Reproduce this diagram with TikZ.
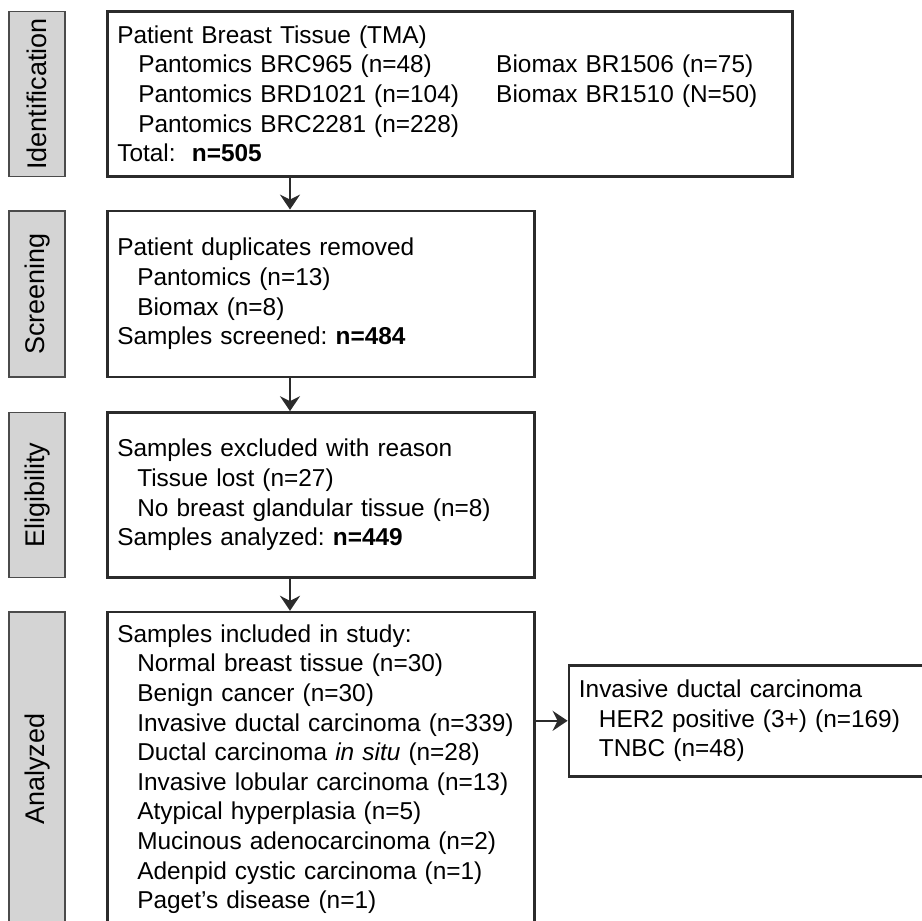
\documentclass[tikz,border=0pt]{standalone}
\usepackage{fontspec}
\setmainfont{Liberation Sans}
\frenchspacing
\usetikzlibrary{positioning, arrows.meta}

\definecolor{framegray}{HTML}{2B2B2B}
\definecolor{phasegray}{HTML}{D4D4D4}

\begin{document}
\begin{tikzpicture}[
    ->,
    >={Stealth[length=15pt, width=20pt, inset=5pt]},
    x=1pt, y=1pt,
    line width=2.6pt,
    font=\fontsize{24.4pt}{29.6pt}\selectfont,
    stagebox/.style={draw=framegray, line width=2.6pt, fill=white, align=left, inner xsep=10pt, inner ysep=0pt, text width=407pt},
    phase/.style={draw=framegray!85, line width=1.6pt, fill=phasegray, rotate=90, minimum height=56pt, inner sep=0pt, font=\fontsize{27pt}{30pt}\selectfont}
  ]

  \useasboundingbox (0,0) rectangle (922,-921);

  % --- STAGE BOXES ---
  \node[stagebox, text width=665pt, minimum height=165pt, anchor=north west] (ident) at (106,-10) {
    Patient Breast Tissue (TMA)\\
    \hspace*{21pt}\makebox[358pt][l]{Pantomics BRC965 (n=48)}Biomax BR1506 (n=75)\\
    \hspace*{21pt}\makebox[358pt][l]{Pantomics BRD1021 (n=104)}Biomax BR1510 (N=50)\\
    \hspace*{21pt}Pantomics BRC2281 (n=228)\\
    Total:\ \ \textbf{n=505}};
  \node[stagebox, minimum height=166pt, below=32pt of ident.south west, anchor=north west] (screen) {
    Patient duplicates removed\\
    \hspace*{20pt}Pantomics (n=13)\\
    \hspace*{20pt}Biomax (n=8)\\
    Samples screened: \textbf{n=484}};
  \node[stagebox, minimum height=165pt, below=33pt of screen.south west, anchor=north west] (elig) {
    Samples excluded with reason\\
    \hspace*{20pt}Tissue lost (n=27)\\
    \hspace*{20pt}No breast glandular tissue (n=8)\\
    Samples analyzed: \textbf{n=449}};
  \node[stagebox, minimum height=314pt, below=32pt of elig.south west, anchor=north west] (incl) {
    Samples included in study:\\
    \hspace*{20pt}Normal breast tissue (n=30)\\
    \hspace*{20pt}Benign cancer (n=30)\\
    \hspace*{20pt}Invasive ductal carcinoma (n=339)\\
    \hspace*{20pt}Ductal carcinoma \textit{in situ} (n=28)\\
    \hspace*{20pt}Invasive lobular carcinoma (n=13)\\
    \hspace*{20pt}Atypical hyperplasia (n=5)\\
    \hspace*{20pt}Mucinous adenocarcinoma (n=2)\\
    \hspace*{20pt}Adenpid cystic carcinoma (n=1)\\
    \hspace*{20pt}Paget’s disease (n=1)};

  \coordinate (idc) at ([yshift=-110pt]incl.north east);
  \node[stagebox, text width=360pt, minimum height=111pt, right=32pt of idc, anchor=west] (subtype) {
    Invasive ductal carcinoma\\
    \hspace*{20pt}HER2 positive (3+) (n=169)\\
    \hspace*{20pt}TNBC (n=48)};

  % --- PHASE LABELS ---
  \node[phase, minimum width=165pt, anchor=south] (labident) at ([xshift=-40pt]ident.west) {Identification};
  \node[phase, minimum width=166pt, anchor=south] (labscreen) at ([xshift=-40pt]screen.west) {Screening};
  \node[phase, minimum width=165pt, anchor=south] (labelig) at ([xshift=-40pt]elig.west) {Eligibility};
  \node[phase, minimum width=314pt, anchor=south] (labincl) at ([xshift=-40pt]incl.west) {Analyzed};

  % --- ARROWS ---
  \path[color=framegray] ([xshift=184pt]ident.south west) edge ([xshift=184pt]screen.north west)
                         ([xshift=184pt]screen.south west) edge ([xshift=184pt]elig.north west)
                         ([xshift=184pt]elig.south west) edge ([xshift=184pt]incl.north west)
                         (idc) edge (subtype);

\end{tikzpicture}
\end{document}
